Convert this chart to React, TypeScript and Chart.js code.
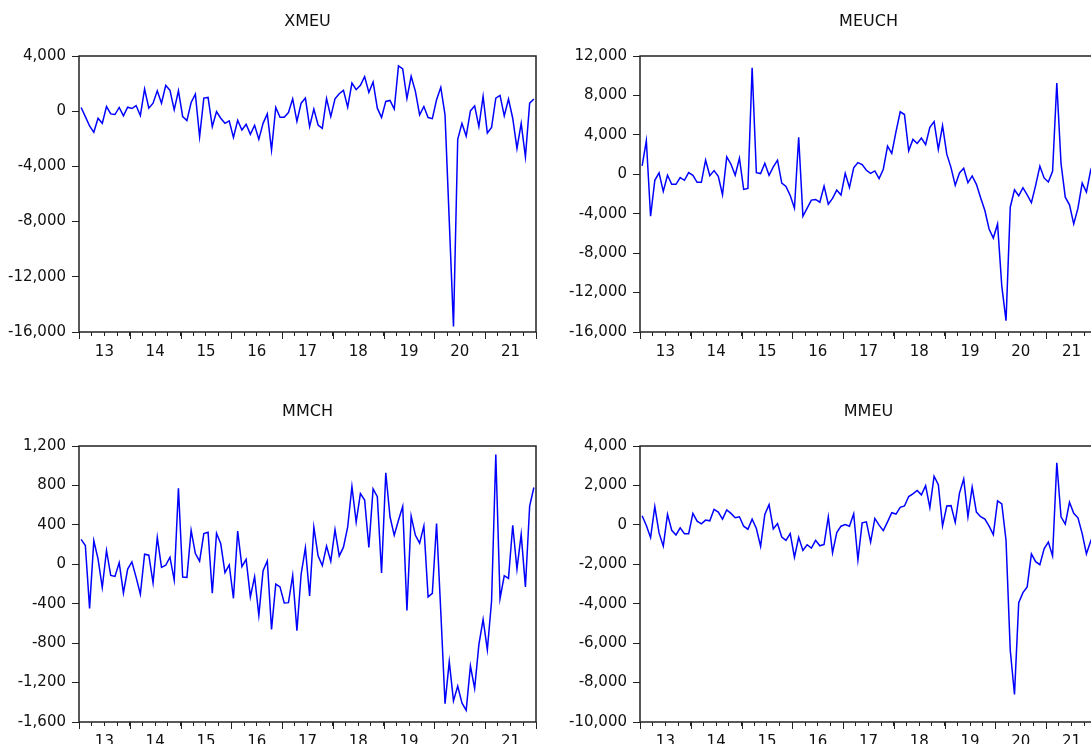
import React, { useEffect, useRef } from "react";
import { Chart, registerables } from "chart.js";

Chart.register(...registerables);

// ---- data (monthly, 2013M01 .. 2021M12) ----
const YEAR_LABELS = ["13", "14", "15", "16", "17", "18", "19", "20", "21"];

const XMEU = [
  270, -390, -1070, -1530, -510, -880, 340, -195, -240, 270, -340, 290,
  195, 410, -320, 1610, 220, 580, 1480, 580, 1870, 1510, 100, 1480,
  -390, -680, 630, 1240, -1850, 950, 1000, -1120, -25, -510, -880, -700,
  -1900, -660, -1360, -950, -1680, -1020, -2040, -880, -195, -2820, 270, -440,
  -440, -100, 900, -730, 580, 950, -1120, 150, -1000, -1240, 920, -390,
  900, 1270, 1510, 290, 2040, 1560, 1870, 2510, 1360, 2120, 220, -460,
  710, 780, 150, 3280, 3070, 920, 2530, 1440, -270, 340, -460, -540,
  830, 1730, -270, -7930, -15600, -2040, -880, -1800, 20, 390, -1120, 1070,
  -1580, -1170, 950, 1140, -340, 880, -510, -2700, -880, -3310, 580, 880,
];

const MEUCH = [
  850, 3400, -4260, -610, 140, -1740, -100, -1020, -1020, -340, -610, 170,
  -100, -820, -820, 1430, -140, 370, -200, -2080, 1770, 1020, -100, 1630,
  -1530, -1430, 10800, 170, 70, 1120, -100, 750, 1430, -890, -1230, -2150,
  -3440, 3750, -4260, -3440, -2620, -2550, -2830, -1190, -3030, -2450, -1600, -2110,
  100, -1330, 650, 1190, 990, 410, 100, 340, -440, 510, 2860, 2110,
  4330, 6340, 6060, 2380, 3540, 3130, 3680, 3000, 4770, 5350, 2520, 4940,
  2040, 680, -1120, 140, 610, -850, -170, -1020, -2380, -3680, -5550, -6470,
  -5040, -11340, -14850, -3340, -1570, -2180, -1360, -2080, -2890, -1120, 820, -370,
  -780, 310, 9260, 1090, -2320, -3100, -5040, -3440, -890, -1810, 410, 1500,
];

const MMCH = [
  253, 191, -447, 239, 55, -236, 140, -113, -123, 17, -290, -48,
  24, -133, -304, 102, 92, -188, 273, -31, -10, 72, -160, 772,
  -130, -133, 345, 109, 31, 311, 324, -294, 314, 208, -85, -7,
  -345, 338, -24, 51, -331, -126, -519, -65, 34, -662, -201, -229,
  -393, -389, -113, -673, -99, 167, -321, 376, 85, -14, 184, 31,
  352, 85, 174, 379, 789, 427, 717, 652, 171, 765, 686, -89,
  929, 482, 294, 447, 587, -468, 488, 294, 215, 389, -331, -294,
  413, -480, -1414, -987, -1386, -1236, -1407, -1482, -1031, -1260, -816, -560,
  -867, -372, 1113, -348, -116, -143, 396, -48, 304, -229, 591, 779,
];

const MMEU = [
  462, -34, -650, 924, -410, -1078, 530, -274, -513, -154, -445, -445,
  582, 188, 51, 240, 205, 787, 650, 291, 753, 582, 359, 411,
  -68, -222, 291, -188, -1095, 530, 1027, -205, 68, -616, -787, -445,
  -1643, -633, -1300, -1010, -1180, -787, -1061, -992, 411, -1420, -394, -68,
  17, -68, 565, -1780, 103, 154, -873, 325, -17, -291, 154, 616,
  548, 890, 958, 1437, 1574, 1745, 1523, 1985, 873, 2464, 2036, -51,
  958, 975, 120, 1608, 2327, 411, 1916, 650, 411, 291, -68, -496,
  1215, 1061, -787, -6360, -8606, -3952, -3439, -3148, -1471, -1865, -2019, -1215,
  -873, -1574, 3148, 411, 34, 1146, 582, 359, -445, -1471, -838, -300,
];

const XMEU_TICKS = [-16000, -12000, -8000, -4000, 0, 4000];
const MEUCH_TICKS = [-16000, -12000, -8000, -4000, 0, 4000, 8000, 12000];
const MMCH_TICKS = [-1600, -1200, -800, -400, 0, 400, 800, 1200];
const MMEU_TICKS = [-10000, -8000, -6000, -4000, -2000, 0, 2000, 4000];

// ---- styling ----
const FONT = "'DejaVu Sans', 'Liberation Sans', Arial, sans-serif";
const TEXT = "#111111";
const AXIS = "#222222";
const CW = 545;
const CH = 370;
const MONTHS = YEAR_LABELS.length * 12;
const QUARTERS = Array.from({ length: MONTHS / 3 + 1 }, (_, k) => k * 3);
const YEAR_BOUNDS = Array.from({ length: YEAR_LABELS.length + 1 }, (_, k) => k * 12);

const framePlugin = {
  id: "eviewsFrame",
  afterDraw(chart: any) {
    const { ctx, chartArea } = chart;
    const xs = chart.scales.x;
    ctx.save();
    ctx.strokeStyle = AXIS;
    ctx.lineWidth = 1.5;
    const l = Math.round(chartArea.left);
    const t = Math.round(chartArea.top);
    const r = Math.round(chartArea.right);
    const b = Math.round(chartArea.bottom);
    ctx.strokeRect(l, t, r - l, b - t);
    ctx.lineWidth = 1;
    ctx.beginPath();
    for (const v of YEAR_BOUNDS) {
      const px = Math.round(xs.getPixelForValue(v)) + 0.5;
      ctx.moveTo(px, b);
      ctx.lineTo(px, b + 7);
    }
    ctx.stroke();
    ctx.restore();
  },
};

function Panel(props: { title: string; values: number[]; ticks: number[]; left: number; top: number }) {
  const ref = useRef<HTMLCanvasElement>(null);
  const { title, values, ticks, left, top } = props;
  useEffect(() => {
    const canvas = ref.current;
    if (!canvas) return;
    const chart = new Chart(canvas, {
      type: "line",
      data: {
        datasets: [
          {
            data: values.map((v, i) => ({ x: i + 0.5, y: v })),
            borderColor: "#0000ff",
            borderWidth: 1.5,
            pointRadius: 0,
            tension: 0,
            fill: false,
          },
        ],
      },
      options: {
        animation: false,
        responsive: false,
        maintainAspectRatio: false,
        devicePixelRatio: 1,
        layout: { padding: { left: 0, right: 9, top: 0, bottom: 0 } },
        plugins: {
          legend: { display: false },
          tooltip: { enabled: false },
          title: {
            display: true,
            text: title,
            fullSize: false,
            color: TEXT,
            font: { family: FONT, size: 16, weight: "normal" },
            padding: { top: 12, bottom: 24.8 },
          },
        },
        scales: {
          x: {
            type: "linear",
            min: 0,
            max: MONTHS,
            afterBuildTicks: (s: any) => {
              s.ticks = QUARTERS.map((v) => ({ value: v }));
            },
            afterFit: (s: any) => {
              s.height = 38;
            },
            ticks: {
              autoSkip: false,
              maxRotation: 0,
              minRotation: 0,
              padding: 7,
              color: TEXT,
              font: { family: FONT, size: 15 },
              callback: (v: any) => {
                const n = Number(v);
                return (n - 6) % 12 === 0 ? YEAR_LABELS[(n - 6) / 12] : "";
              },
            },
            grid: { drawOnChartArea: false, drawTicks: true, tickLength: 4, color: AXIS, lineWidth: 1 },
            border: { display: false },
          },
          y: {
            type: "linear",
            min: ticks[0],
            max: ticks[ticks.length - 1],
            afterBuildTicks: (s: any) => {
              s.ticks = ticks.map((v) => ({ value: v }));
            },
            afterFit: (s: any) => {
              s.width = 79;
            },
            ticks: {
              padding: 6,
              color: TEXT,
              font: { family: FONT, size: 15 },
              callback: (v: any) => Number(v).toLocaleString("en-US"),
            },
            grid: { drawOnChartArea: false, drawTicks: true, tickLength: 7, color: AXIS, lineWidth: 1 },
            border: { display: false },
          },
        },
      } as any,
      plugins: [framePlugin],
    });
    return () => chart.destroy();
  }, [title, values, ticks]);
  return (
    <canvas
      ref={ref}
      width={CW}
      height={CH}
      style={{ position: "absolute", left, top, width: CW, height: CH }}
    />
  );
}

export default function App() {
  return (
    <div
      style={{
        position: "fixed",
        left: 0,
        top: 0,
        width: 1091,
        height: 744,
        overflow: "hidden",
        background: "#ffffff",
      }}
    >
      <Panel title="XMEU" values={XMEU} ticks={XMEU_TICKS} left={0} top={0} />
      <Panel title="MEUCH" values={MEUCH} ticks={MEUCH_TICKS} left={561} top={0} />
      <Panel title="MMCH" values={MMCH} ticks={MMCH_TICKS} left={0} top={390} />
      <Panel title="MMEU" values={MMEU} ticks={MMEU_TICKS} left={561} top={390} />
    </div>
  );
}
